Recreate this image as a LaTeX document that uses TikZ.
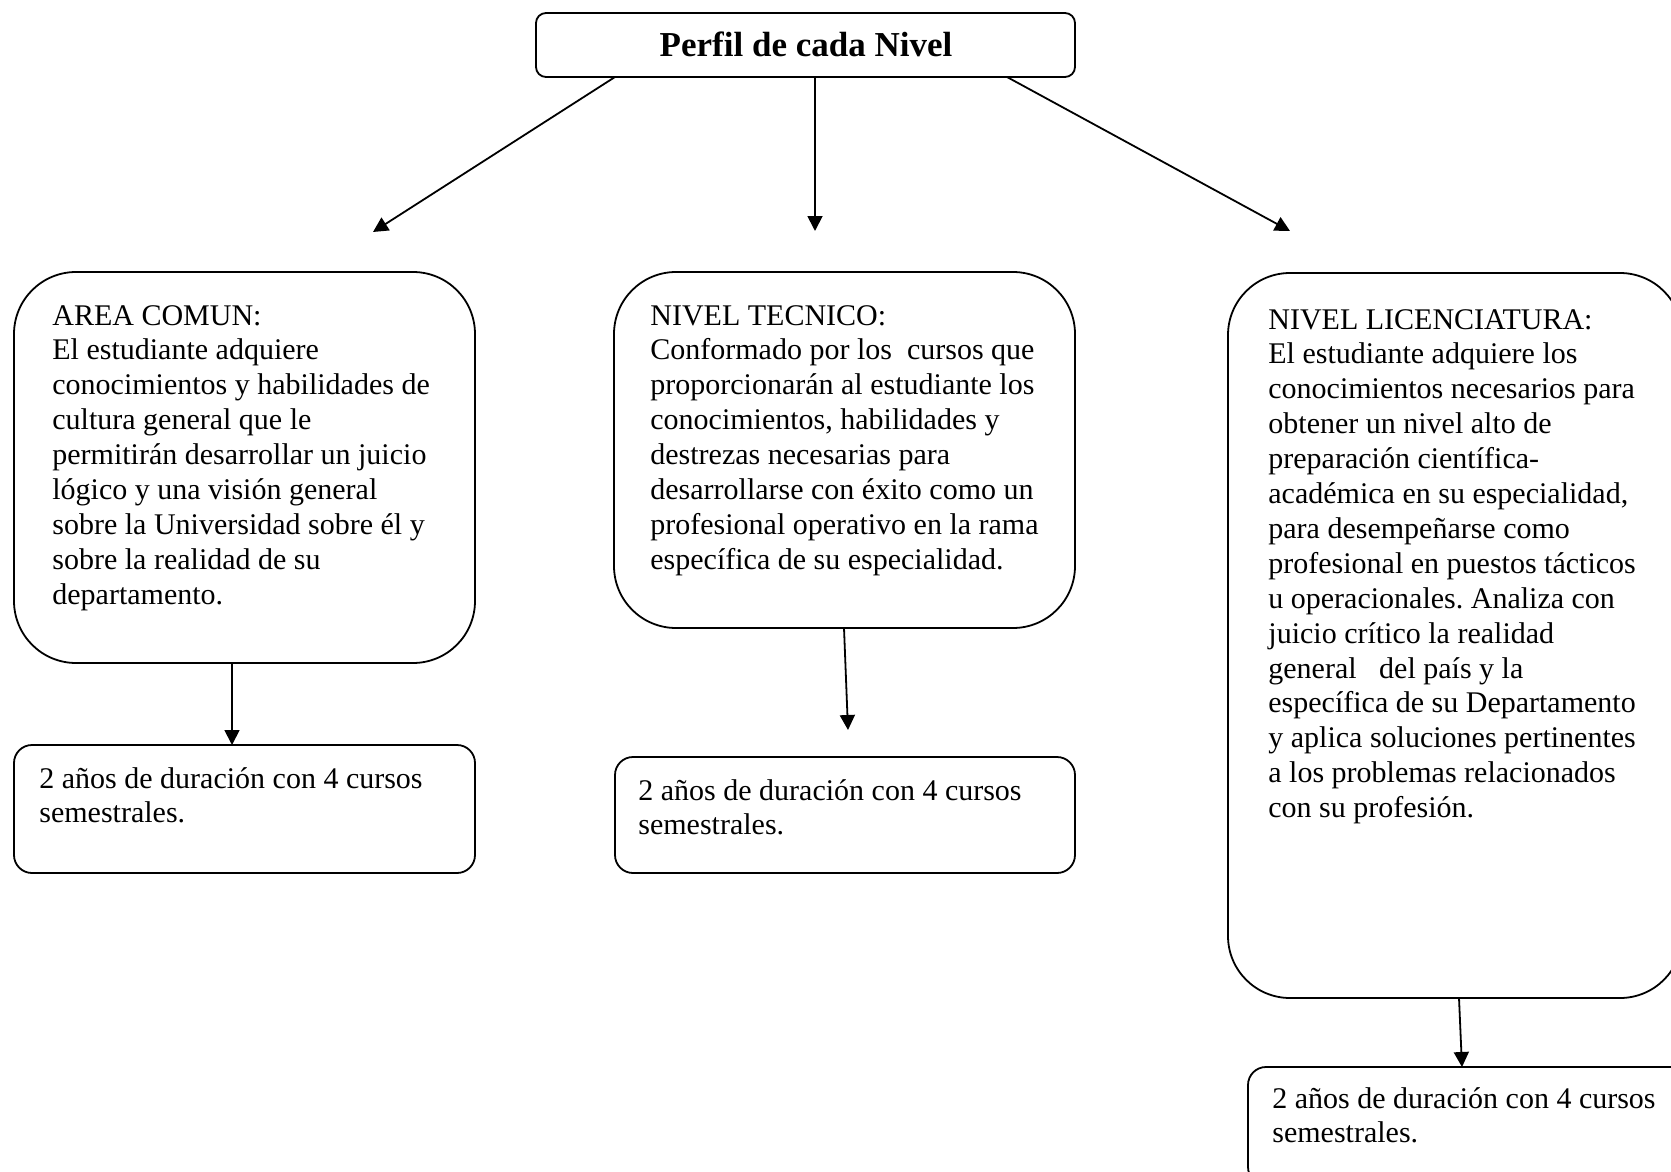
\documentclass[tikz,border=0pt]{standalone}
\usepackage{fontspec}
\setmainfont{Liberation Serif}
\usetikzlibrary{arrows.meta,calc}
\frenchspacing
\newcommand{\boxlines}[1]{\parbox[t]{220pt}{\fontsize{15}{17.45}\selectfont #1}}
\begin{document}
\begin{tikzpicture}[x=0.5pt,y=-0.5pt,
  lw/.style={line width=0.9pt},
  bigbox/.style={draw,lw,rectangle,rounded corners=31pt,inner sep=0pt,outer sep=0pt,anchor=north west,minimum width=230.5pt},
  smallbox/.style={draw,lw,rectangle,rounded corners=9pt,inner sep=0pt,outer sep=0pt,anchor=north west,minimum width=230.5pt},
  txt/.style={inner sep=0pt,anchor=base west},
  arr/.style={lw,-{Triangle[length=7.5pt,width=7.5pt]}}]
\useasboundingbox (0,0) rectangle (1671,1172);
\clip (0,0) rectangle (1671,1172);
\fill[white] (0,0) rectangle (1671,1172);

% title
\node[draw,lw,rectangle,rounded corners=5pt,inner sep=0pt,outer sep=0pt,anchor=north west,
      minimum width=269.5pt,minimum height=32pt] (T) at (536,13) {};
\node[inner sep=0pt,anchor=base] (Tt) at (806,57) {\fontsize{17.5}{20}\selectfont\bfseries Perfil de cada Nivel};

% main boxes
\node[bigbox,minimum height=195.5pt] (A) at (14,272) {};
\node[bigbox,minimum height=178pt] (B) at (614,272) {};
\node[bigbox,minimum width=227pt,minimum height=362.5pt] (C) at (1228,273) {};

\node[txt] (At) at ($(A.north west)+(38,53)$) {\boxlines{AREA COMUN:\\
El estudiante adquiere\\
conocimientos y habilidades de\\
cultura general que le\\
permitirán desarrollar un juicio\\
lógico y una visión general\\
sobre la Universidad sobre él y\\
sobre la realidad de su\\
departamento.}};

\node[txt] (Bt) at ($(B.north west)+(36,53)$) {\boxlines{NIVEL TECNICO:\\
Conformado por los\ \ cursos que\\
proporcionarán al estudiante los\\
conocimientos, habilidades y\\
destrezas necesarias para\\
desarrollarse con éxito como un\\
profesional operativo en la rama\\
específica de su especialidad.}};

\node[txt] (Ct) at ($(C.north west)+(40,56)$) {\boxlines{NIVEL LICENCIATURA:\\
El estudiante adquiere los\\
conocimientos necesarios para\\
obtener un nivel alto de\\
preparación científica-\\
académica en su especialidad,\\
para desempeñarse como\\
profesional en puestos tácticos\\
u operacionales. Analiza con\\
juicio crítico la realidad\\
general\ \ \ del país y la\\
específica de su Departamento\\
y aplica soluciones pertinentes\\
a los problemas relacionados\\
con su profesión.}};

% bottom boxes
\node[smallbox,minimum height=64pt] (A2) at (14,745) {};
\node[smallbox,minimum width=230pt,minimum height=58pt] (B2) at (615,757) {};
\node[smallbox,minimum width=230pt,minimum height=59pt] (C2) at (1248,1067) {};

\node[txt] (A2t) at ($(A2.north west)+(25,43)$) {\boxlines{2 años de duración con 4 cursos\\semestrales.}};
\node[txt] (B2t) at ($(B2.north west)+(23,43)$) {\boxlines{2 años de duración con 4 cursos\\semestrales.}};
\node[txt] (C2t) at ($(C2.north west)+(24,41)$) {\boxlines{2 años de duración con 4 cursos\\semestrales.}};

% connector free ends
\coordinate (tipA) at (373,232);
\coordinate (tipB) at (815,231);
\coordinate (tipC) at (1290,231);
\coordinate (tipB2) at (848,730);

\draw[arr] ($(T.south west)+(79,0)$) -- (tipA);
\draw[arr] ($(T.south west)+(279,0)$) -- (tipB);
\draw[arr] ($(T.south west)+(471,0)$) -- (tipC);

\draw[arr] ($(A.south west)+(218,0)$) -- ($(A2.north west)+(218,0)$);
\draw[arr] ($(B.south west)+(230,0)$) -- (tipB2);
\draw[arr] ($(C.south west)+(231,0)$) -- ($(C2.north west)+(214,0)$);
\end{tikzpicture}
\end{document}
